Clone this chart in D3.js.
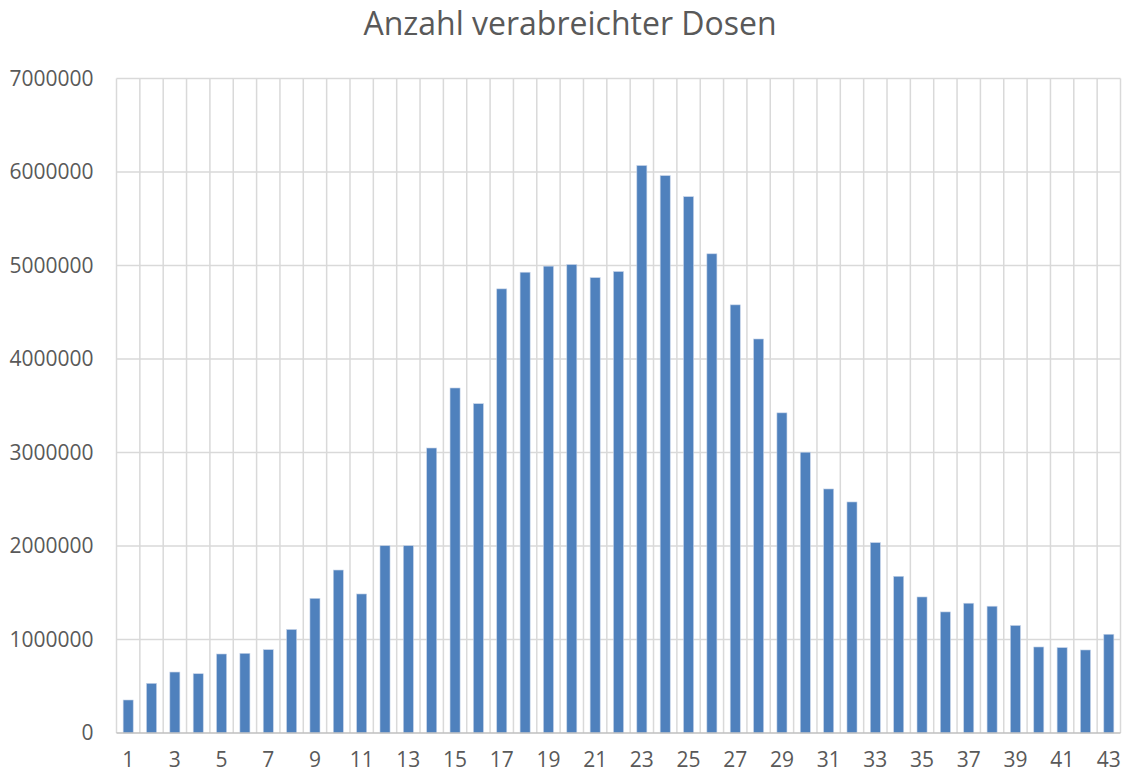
<!DOCTYPE html>
<html>
<head>
<meta charset="utf-8">
<script src="https://cdn.jsdelivr.net/npm/d3@7"></script>
<style>
  body { margin: 0; background: #fff; }
  text { font-family: "Open Sans", "Noto Sans", sans-serif; fill: #595959; }
</style>
</head>
<body>
<div id="chart"></div>
<script>
// weeks 1..43
var weeks = d3.range(1, 44);
var doses = [
  353000, 531000, 652000, 634000, 845000, 852000, 891000, 1107000, 1440000, 1743000,
  1487000, 2003000, 2003000, 3048000, 3690000, 3522000, 4750000, 4928000, 4993000, 5010000,
  4870000, 4935000, 6069000, 5961000, 5736000, 5125000, 4579000, 4214000, 3424000, 3003000,
  2610000, 2471000, 2036000, 1676000, 1455000, 1295000, 1388000, 1356000, 1150000, 920000,
  913000, 888000, 1056000
];
var yTicks = [0, 1000000, 2000000, 3000000, 4000000, 5000000, 6000000, 7000000];
var title = "Anzahl verabreichter Dosen";

var W = 1126, H = 774;
var margin = {top: 78.5, right: 5.5, bottom: 41, left: 116.5};
var width = W - margin.left - margin.right,
    height = H - margin.top - margin.bottom;

var x = d3.scaleBand().domain(weeks).range([0, width]).paddingInner(0.57).paddingOuter(0.285);
var grid = d3.scaleLinear().domain([0, weeks.length]).range([0, width]);
var y = d3.scaleLinear().domain([0, 7000000]).range([height, 0]);

var svg = d3.select("#chart").append("svg")
    .attr("width", W)
    .attr("height", H);

svg.append("text")
    .attr("x", 570)
    .attr("y", 35)
    .attr("text-anchor", "middle")
    .style("font-size", "32px")
    .text(title);

var g = svg.append("g")
    .attr("transform", "translate(" + margin.left + "," + margin.top + ")");

// horizontal grid
g.selectAll("line.h").data(yTicks.slice(1)).enter().append("line")
    .attr("class", "h")
    .attr("x1", 0).attr("x2", width)
    .attr("y1", function(d) { return y(d); })
    .attr("y2", function(d) { return y(d); })
    .attr("stroke", "#d9d9d9").attr("stroke-width", 1.5);

// vertical grid between categories
g.selectAll("line.v").data(d3.range(0, weeks.length + 1)).enter().append("line")
    .attr("class", "v")
    .attr("x1", function(d) { return grid(d); })
    .attr("x2", function(d) { return grid(d); })
    .attr("y1", 0).attr("y2", height)
    .attr("stroke", "#d9d9d9").attr("stroke-width", 1.5);

// bars
g.selectAll("rect").data(doses).enter().append("rect")
    .attr("x", function(d, i) { return x(weeks[i]); })
    .attr("width", x.bandwidth())
    .attr("y", function(d) { return y(d); })
    .attr("height", function(d) { return height - y(d); })
    .attr("fill", "#4f81bd")
    .attr("stroke", "#c5d3e8")
    .attr("stroke-width", 0.6);

// x axis line
g.append("line")
    .attr("x1", 0).attr("x2", width)
    .attr("y1", height).attr("y2", height)
    .attr("stroke", "#bfbfbf").attr("stroke-width", 1.5);

// y labels
var yAxis = d3.axisLeft(y).tickValues(yTicks).tickSize(0).tickPadding(23)
    .tickFormat(d3.format("d"));
var ya = g.append("g").call(yAxis);
ya.select(".domain").remove();
ya.selectAll("text").style("font-size", "21px").attr("fill", "#595959");

// x labels, every second week
var xAxis = d3.axisBottom(x).tickValues(weeks.filter(function(d) { return d % 2 === 1; }))
    .tickSize(0).tickPadding(19);
var xa = g.append("g").attr("transform", "translate(0," + height + ")").call(xAxis);
xa.select(".domain").remove();
xa.selectAll("text").style("font-size", "21px").attr("fill", "#595959");
</script>
</body>
</html>
